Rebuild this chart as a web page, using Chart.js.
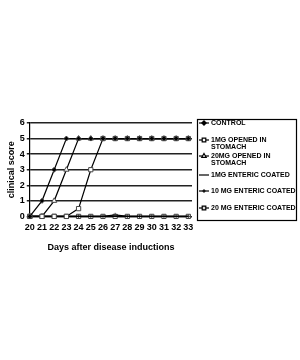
<!DOCTYPE html>
<html><head><meta charset="utf-8">
<script src="https://cdn.jsdelivr.net/npm/chart.js@4/dist/chart.umd.min.js"></script>
<style>html,body{margin:0;padding:0;background:#fff}#w{width:300px;height:360px}</style>
</head><body><div id="w"><canvas id="c"></canvas></div>
<script>
const days = [20,21,22,23,24,25,26,27,28,29,30,31,32,33];
const yTicks = [0,1,2,3,4,5,6];
const seriesNames = [["CONTROL"],["1MG OPENED IN","STOMACH"],["20MG OPENED IN","STOMACH"],["1MG ENTERIC COATED"],["10 MG ENTERIC COATED"],["20 MG ENTERIC COATED"]];
const control =      [0,1,3,5,5,5,5,5,5,5,5,5,5,5];
const mg1Opened =    [0,0,0,0,0.5,3,5,5,5,5,5,5,5,5];
const mg20Opened =   [0,0,1,3,5,5,5,5,5,5,5,5,5,5];
const mg1Enteric =   [0,0,0,0,0,0,0,0,0,0,0,0,0,0];
const mg10Enteric =  [0,0,0,0,0,0,0,0.1,0,0,0,0,0,0];
const mg20Enteric =  [0,0,0,0,0,0,0,0,0,0,0,0,0,0];
const xTitle = "Days after disease inductions";
const yTitle = "clinical score";

const styles = [
  {pointStyle:'rectRot', pointRadius:2.5, pointBackgroundColor:'#000'},
  {pointStyle:'rect', pointRadius:3, pointBackgroundColor:'#fff'},
  {pointStyle:'triangle', pointRadius:3, pointBackgroundColor:'#fff'},
  {pointStyle:false, pointRadius:0, pointBackgroundColor:'#000'},
  {pointStyle:'cross', pointRadius:2, pointBackgroundColor:'#000'},
  {pointStyle:'rect', pointRadius:3, pointBackgroundColor:'#ddd'}
];
const allData = [control, mg1Opened, mg20Opened, mg1Enteric, mg10Enteric, mg20Enteric];
const datasets = allData.map((arr,i)=>Object.assign({
  label: seriesNames[i].join(' '),
  data: arr.map((v,j)=>({x:days[j], y:v})),
  borderColor:'#000', borderWidth:1.2, pointBorderColor:'#444', pointBorderWidth:1,
  tension:0, fill:false, clip:false
}, styles[i]));

const legendPlugin = {
  id:'boxLegend',
  afterDraw(chart){
    const ctx = chart.ctx;
    ctx.save();
    ctx.strokeStyle='#000'; ctx.lineWidth=1.2;
    ctx.strokeRect(197.5,119.5,99,101);
    const rows = [123,140,156,175,191,208];
    ctx.font = "bold 7px 'Liberation Sans', Arial, sans-serif";
    ctx.textBaseline='middle'; ctx.fillStyle='#000';
    seriesNames.forEach((lines,i)=>{
      const y = rows[i];
      ctx.beginPath(); ctx.moveTo(199,y); ctx.lineTo(209,y); ctx.lineWidth=1.2; ctx.strokeStyle='#000'; ctx.stroke();
      const st = styles[i];
      if(st.pointStyle){
        ctx.fillStyle = st.pointBackgroundColor; ctx.strokeStyle='#000';
        Chart.helpers.drawPoint(ctx,{pointStyle:st.pointStyle, radius:st.pointRadius*0.85, borderWidth:1}, 204, y);
      }
      ctx.fillStyle='#000';
      lines.forEach((t,k)=>ctx.fillText(t,211,y+k*7));
    });
    ctx.restore();
  }
};

new Chart(document.getElementById('c'),{
  type:'line',
  data:{datasets},
  plugins:[legendPlugin],
  options:{
    responsive:true, maintainAspectRatio:false, animation:false,
    layout:{padding:{top:123,left:2,right:108,bottom:103}},
    plugins:{legend:{display:false}, tooltip:{enabled:false}},
    scales:{
      x:{type:'linear', min:20, max:33.3,
        afterBuildTicks(s){ s.ticks = days.map(d=>({value:d})); },
        grid:{display:false, drawTicks:false}, border:{display:false},
        ticks:{color:'#000', font:{family:"'Liberation Sans', Arial, sans-serif", size:9, weight:'bold'}, padding:6, maxRotation:0, autoSkip:false},
        title:{display:true, text:xTitle, color:'#000', font:{family:"'Liberation Sans', Arial, sans-serif", size:9, weight:'bold'}, padding:{top:3}}
      },
      y:{min:0, max:6,
        afterBuildTicks(s){ s.ticks = yTicks.map(v=>({value:v})); },
        grid:{color:'#222', lineWidth:1.5, drawTicks:true, tickLength:3},
        border:{display:true, color:'#000', width:1.2},
        ticks:{color:'#000', font:{family:"'Liberation Sans', Arial, sans-serif", size:9, weight:'bold'}, padding:2},
        title:{display:true, text:yTitle, color:'#000', font:{family:"'Liberation Sans', Arial, sans-serif", size:9, weight:'bold'}, padding:{bottom:1}}
      }
    }
  }
});
</script></body></html>
